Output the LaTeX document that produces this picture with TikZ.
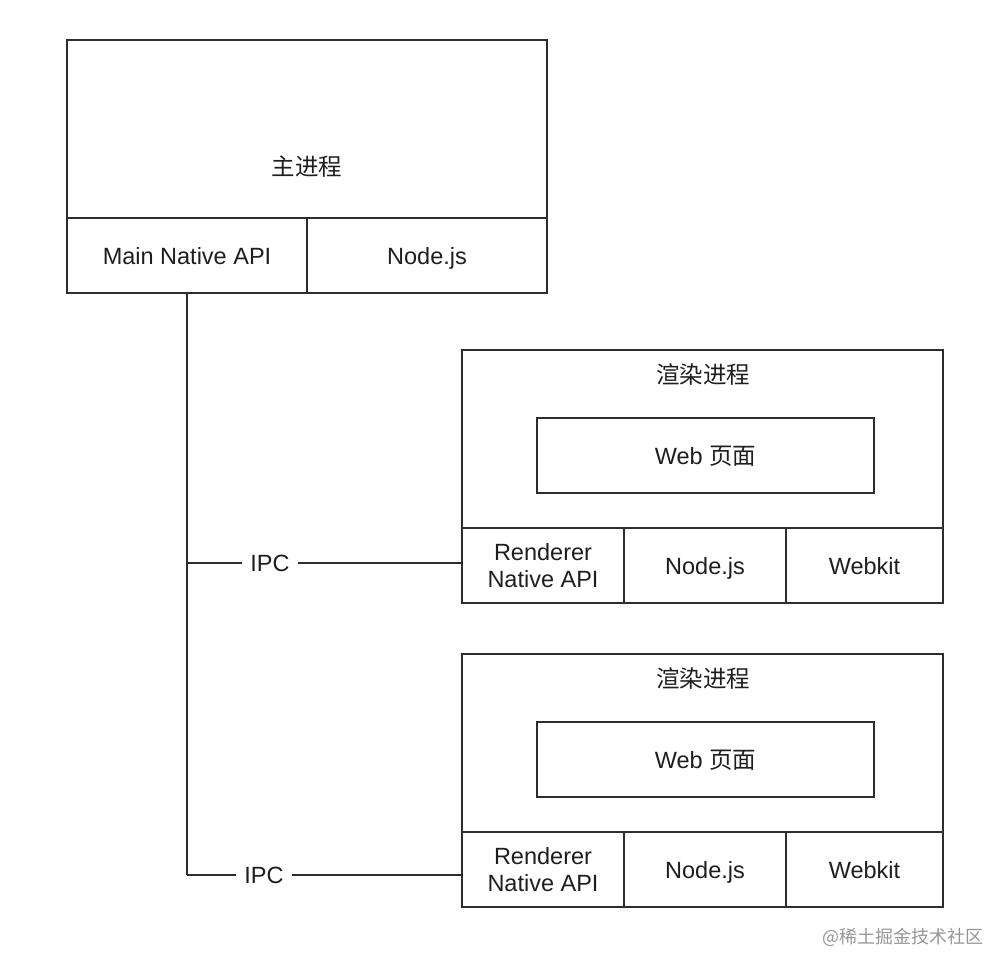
\documentclass[tikz,border=0pt]{standalone}
\usepackage{fontspec}
\setmainfont{Liberation Sans}
\newfontfamily\cjk{Noto Sans CJK SC}
\definecolor{LineGray}{RGB}{45,45,45}
\definecolor{TextGray}{RGB}{30,30,30}
\definecolor{MarkGray}{RGB}{150,150,150}
\usetikzlibrary{positioning, calc}

\begin{document}
\begin{tikzpicture}[x=1pt, y=-1pt, font=\fontsize{23.5}{27}\selectfont,
	caja/.style={draw=LineGray, line width=1.4pt, rectangle, inner sep=0pt,
		text=TextGray, align=center},
	celda/.style={caja, minimum height=75pt},
	celdauna/.style={celda, text height=17pt, text depth=0pt},
	rotulo/.style={text=TextGray, inner sep=0pt},
	ipc/.style={text=TextGray, inner sep=8.5pt},
	linea/.style={draw=LineGray, line width=1.4pt}]

	\useasboundingbox (0,0) rectangle (1008,972);

	% proceso principal
	\node[caja, minimum width=480pt, minimum height=178pt] (zhu) at (307,129) {};
	\node[rotulo] (zhutxt) at (307,167) {\cjk 主进程};
	\node[celdauna, minimum width=240pt] (mainapi) at (187,255.5) {Main Native API};
	\node[celdauna, minimum width=240pt] (mainnode) at (427,255.5) {Node.js};

	\foreach \i/\top/\yipc/\xipc in {1/350/563/270, 2/654/875/264}{
		\node[caja, minimum width=481pt, minimum height=178pt] (rend\i)
			at (702.5,\top+89) {};
		\node[rotulo] (title\i) at (703,\top+25) {\cjk 渲染进程};
		\node[caja, minimum width=337pt, minimum height=75pt,
			text height=17pt, text depth=0pt] (web\i)
			at (705.5,\top+105.5) {Web {\cjk 页面}};
		\node[celda, minimum width=162pt] (api\i) at (543,\top+215.5)
			{Renderer\\Native API};
		\node[celdauna, minimum width=162pt] (node\i) at (705,\top+215.5) {Node.js};
		\node[celdauna, minimum width=157pt] (webkit\i) at (864.5,\top+215.5) {Webkit};
		\node[ipc] (ipc\i) at (\xipc,\yipc) {IPC};
		\draw[linea] (mainapi.south |- ipc\i) -- (ipc\i.west);
		\draw[linea] (ipc\i.east) -- (ipc\i.east -| api\i.west);
	}
	\draw[linea] (mainapi.south) -- (mainapi.south |- ipc2);

	\node[text=MarkGray, font=\fontsize{18}{21}\selectfont] (marca) at (903,937)
		{\cjk @稀土掘金技术社区};
\end{tikzpicture}
\end{document}
